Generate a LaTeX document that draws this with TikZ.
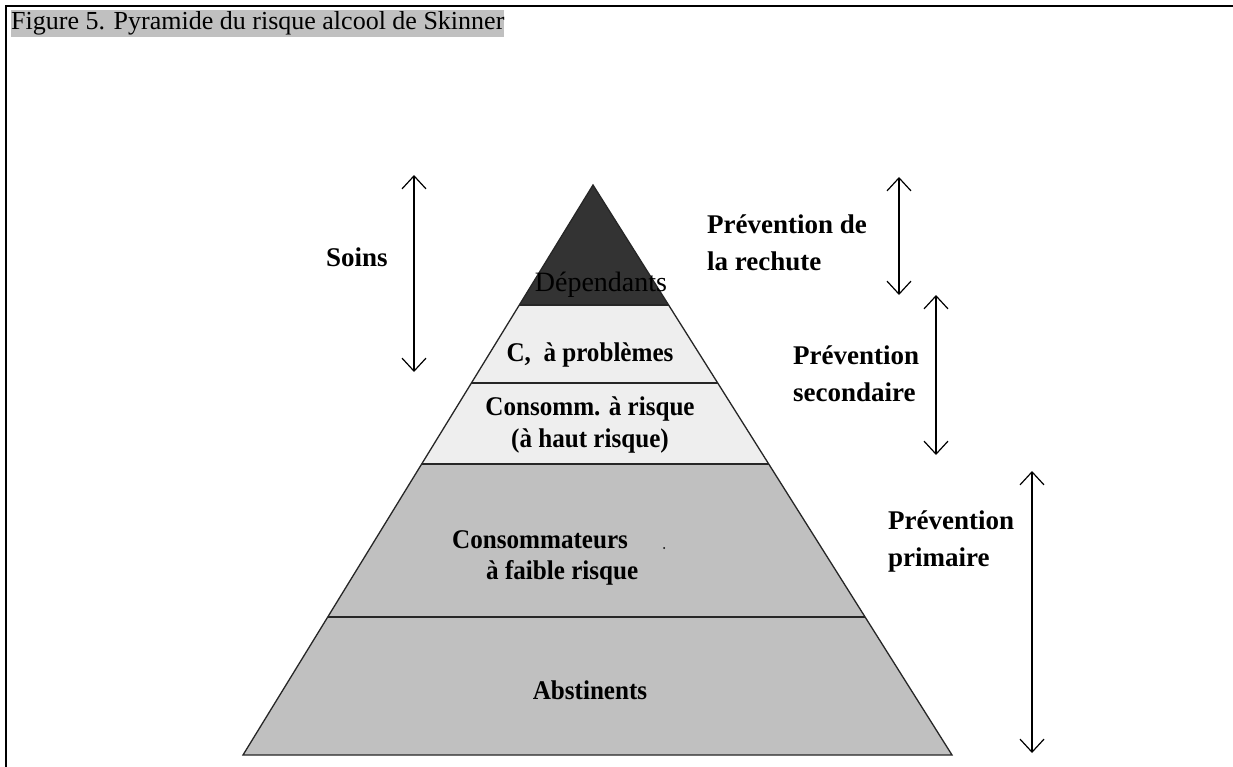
\documentclass[tikz,border=0pt]{standalone}
\usepackage{fontspec}
\setmainfont{Liberation Serif}
\newfontfamily\lblfont[FakeStretch=0.93]{Liberation Serif}
\usetikzlibrary{arrows.meta,calc}
\definecolor{topfill}{HTML}{333333}
\definecolor{lightfill}{HTML}{EEEEEE}
\definecolor{midfill}{HTML}{C0C0C0}
\begin{document}
\begin{tikzpicture}[x=1pt,y=-1pt,
  lbl/.style={font=\fontsize{27}{37}\selectfont\bfseries, align=left, inner sep=0pt},
  inlbl/.style={font=\lblfont\fontsize{27}{32}\selectfont\bfseries, align=center, inner sep=0pt},
  barb/.tip={Straight Barb[length=13pt,width=24pt,line width=1.2pt]},
  dbl/.style={barb-barb, line width=1.3pt},
  edge/.style={draw=black!85, line width=1.3pt}]
\useasboundingbox (0,0) rectangle (1233,767);
\fill[white] (0,0) rectangle (1233,767);
% frame
\coordinate (fbl) at (6,767);
\coordinate (ftl) at (6,6);
\coordinate (ftr) at (1233,6);
\draw[line width=2.4pt] (fbl) -- (ftl) -- (ftr);
% title
\node[anchor=west, fill=midfill, inner xsep=0pt, inner ysep=0pt, minimum height=27pt,
      font=\fontsize{26}{30}\selectfont] (title) at (11,23.5) {Figure 5. Pyramide du risque alcool de Skinner};
% pyramid
\coordinate (A) at (593,185);
\coordinate (BL) at (243,755);
\coordinate (BR) at (952,755);
\coordinate (L1) at ($(A)!0.2105!(BL)$);
\coordinate (R1) at ($(A)!0.2105!(BR)$);
\coordinate (L2) at ($(A)!0.3474!(BL)$);
\coordinate (R2) at ($(A)!0.3474!(BR)$);
\coordinate (L3) at ($(A)!0.4895!(BL)$);
\coordinate (R3) at ($(A)!0.4895!(BR)$);
\coordinate (L4) at ($(A)!0.7579!(BL)$);
\coordinate (R4) at ($(A)!0.7579!(BR)$);
\fill[topfill] (A) -- (L1) -- (R1) -- cycle;
\fill[lightfill] (L1) -- (L3) -- (R3) -- (R1) -- cycle;
\fill[midfill] (L3) -- (BL) -- (BR) -- (R3) -- cycle;
\draw[edge] (A) -- (BL) -- (BR) -- cycle;
\draw[edge] (L1) -- (R1);
\draw[edge] (L2) -- (R2);
\draw[edge] (L3) -- (R3);
\draw[edge] (L4) -- (R4);
% pyramid labels
\node[font=\fontsize{28}{30}\selectfont, inner sep=0pt] (dep) at (601,285) {Dépendants};
\node[inlbl] (prob) at (590,355) {C,\ \ à problèmes};
\node[inlbl] (risk) at (590,425) {Consomm. à risque\\(à haut risque)};
\node[inlbl, anchor=west] (cons1) at (452,540) {Consommateurs};
\node[inlbl, anchor=west] (cons2) at (486,573) {à faible risque};
\fill (664,548) circle (1pt);
\node[inlbl] (abst) at (590,690) {Abstinents};
% side labels
\node[lbl, anchor=west] (soins) at (326,257) {Soins};
\node[lbl, anchor=west] (rech) at (707,243) {Prévention de\\la rechute};
\node[lbl, anchor=west] (sec) at (793,374) {Prévention\\secondaire};
\node[lbl, anchor=west] (prim) at (888,541) {Prévention\\primaire};
% arrows
\coordinate (s1) at (414,175); \coordinate (s2) at (414,372);
\coordinate (r1) at (899,177); \coordinate (r2) at (899,295);
\coordinate (c1) at (936,295); \coordinate (c2) at (936,455);
\coordinate (p1) at (1032,471); \coordinate (p2) at (1032,753);
\draw[dbl] (s1) -- (s2);
\draw[dbl] (r1) -- (r2);
\draw[dbl] (c1) -- (c2);
\draw[dbl] (p1) -- (p2);
\end{tikzpicture}
\end{document}
